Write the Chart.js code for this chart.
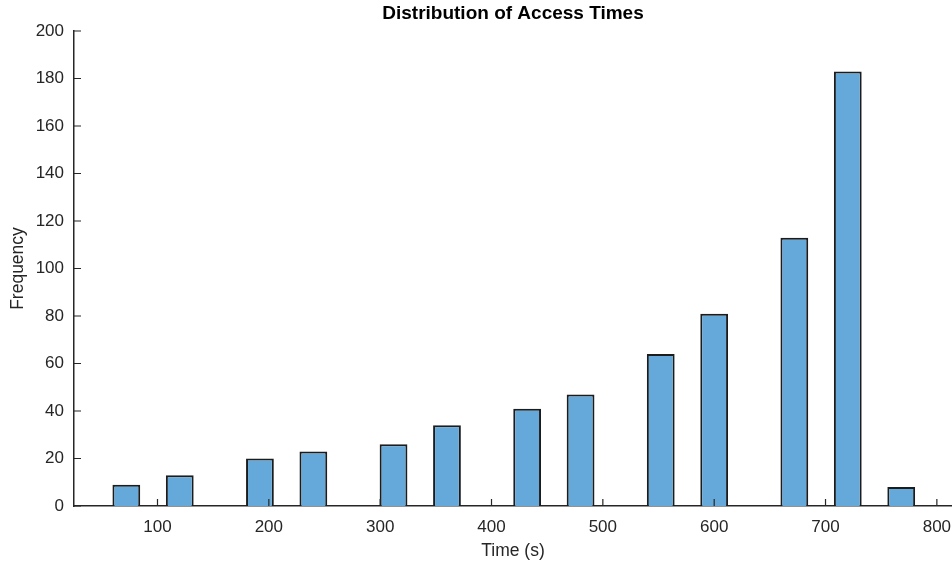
<!DOCTYPE html>
<html>
<head>
<meta charset="utf-8">
<title>Distribution of Access Times</title>
<script src="https://cdn.jsdelivr.net/npm/chart.js@4"></script>
<style>
    html, body { margin: 0; padding: 0; overflow: hidden; background: #fff; }
    .chart-wrap { position: relative; width: 980px; height: 565px; }
</style>
</head>
<body>
<div class="chart-wrap"><canvas id="chart"></canvas></div>
<script>
// bin centres (s) and counts
const binCenters = [72, 120, 192, 240, 312, 360, 432, 480, 552, 600, 672, 720, 768]
const frequencies = [9, 13, 20, 23, 26, 34, 41, 47, 64, 81, 113, 183, 8]
const xTicks = [100, 200, 300, 400, 500, 600, 700, 800]
const yTicks = [0, 20, 40, 60, 80, 100, 120, 140, 160, 180, 200]

const axisColor = '#262626'
const fontFamily = "'Liberation Sans', Arial, Helvetica, sans-serif"

Chart.defaults.color = axisColor
Chart.defaults.font.family = fontFamily

// MATLAB style ticks: short marks pointing into the plot
const inwardTicks = {
    id: 'inwardTicks',
    afterDraw(chart) {
        const { ctx, chartArea, scales: { x, y } } = chart
        ctx.save()
        ctx.strokeStyle = axisColor
        ctx.lineWidth = 1.2
        ctx.beginPath()
        x.ticks.forEach(t => {
            const px = x.getPixelForValue(t.value)
            ctx.moveTo(px, chartArea.bottom)
            ctx.lineTo(px, chartArea.bottom - 7)
        })
        y.ticks.forEach(t => {
            const py = y.getPixelForValue(t.value)
            ctx.moveTo(chartArea.left, py)
            ctx.lineTo(chartArea.left + 7, py)
        })
        ctx.stroke()
        ctx.restore()
    }
}

const ctx = document.getElementById('chart').getContext('2d')

new Chart(ctx, {
    type: 'bar',
    data: {
        datasets: [{
            data: binCenters.map((x, i) => ({ x: x, y: frequencies[i] })),
            backgroundColor: '#64a9d9',
            borderColor: '#1c1c1c',
            borderWidth: 2,
            categoryPercentage: 1,
            barPercentage: 0.52
        }]
    },
    options: {
        animation: false,
        responsive: true,
        maintainAspectRatio: false,
        layout: {
            padding: { left: 0, right: 28, top: 0, bottom: 0 }
        },
        plugins: {
            legend: { display: false },
            tooltip: { enabled: false },
            title: {
                display: true,
                text: 'Distribution of Access Times',
                fullSize: false,
                color: '#000',
                font: { size: 19, weight: 'bold' },
                padding: { top: 2, bottom: 6.2 }
            }
        },
        scales: {
            x: {
                type: 'linear',
                min: 25,
                max: 813.6,
                offset: false,
                z: 1,
                grid: { display: false, drawTicks: false },
                border: { display: true, color: axisColor, width: 1.5 },
                afterBuildTicks: scale => { scale.ticks = xTicks.map(v => ({ value: v })) },
                afterFit: scale => { scale.height = 59 },
                ticks: {
                    autoSkip: false,
                    maxRotation: 0,
                    padding: 11,
                    font: { size: 17 }
                },
                title: {
                    display: true,
                    text: 'Time (s)',
                    font: { size: 17.5 },
                    padding: { top: 4, bottom: 3 }
                }
            },
            y: {
                min: 0,
                max: 200,
                z: 1,
                grid: { display: false, drawTicks: false },
                border: { display: true, color: axisColor, width: 1.5 },
                afterBuildTicks: scale => { scale.ticks = yTicks.map(v => ({ value: v })) },
                afterFit: scale => { scale.width = 74 },
                ticks: {
                    padding: 10,
                    font: { size: 17 }
                },
                title: {
                    display: true,
                    text: 'Frequency',
                    font: { size: 17.5 },
                    padding: { top: 8, bottom: 4 }
                }
            }
        }
    },
    plugins: [inwardTicks]
})
</script>
</body>
</html>
